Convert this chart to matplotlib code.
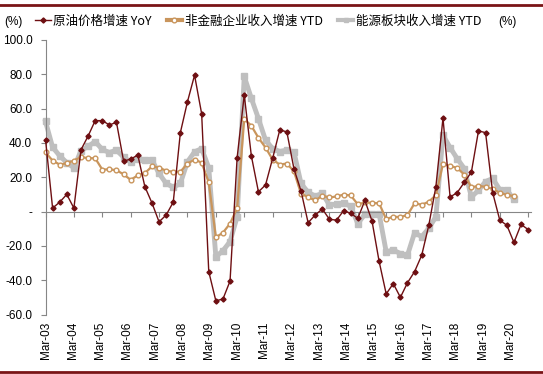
import numpy as np
import matplotlib.pyplot as plt
from matplotlib.lines import Line2D
from matplotlib.ticker import FuncFormatter
from matplotlib.font_manager import FontProperties

plt.rcParams['font.family'] = ['Liberation Sans', 'DejaVu Sans']

# 季度数据 Mar-03 起
crude_oil_yoy = [42, 2, 5.5, 10, 2, 36, 44, 53, 53, 50.5,
                 52, 29.5, 30.5, 33, 14.5, 5, -6, -2, 5.5, 46,
                 64, 79.5, 57, -35, -52, -51, -40.5, 31.5, 68, 32.5,
                 11.5, 15.5, 31, 47.5, 46.5, 25, 12, -6.5, -2, 1.5,
                 -4.5, -5, 0.5, -1, -4, 6.5, -5.5, -29, -48, -42,
                 -50, -41.5, -35, -25.5, -8, 14.5, 54.5, 8.5, 11, 17,
                 23, 47, 46, 11, -5, -8, -18, -7.5, -10.5]
nonfin_rev_ytd = [34.5, 29.7, 27.4, 28.2, 29.7, 31.8, 31.1, 31.1, 24.5, 24.6,
                  24.1, 21.7, 18.5, 21.1, 22.4, 26.3, 25.6, 23.8, 23.2, 23.2,
                  28.0, 30.3, 28.5, 17.0, -15.0, -12.3, -7.0, 2.0, 54.0, 50.0,
                  43.0, 37.3, 30.3, 27.4, 28.0, 23.5, 10.4, 8.4, 6.5, 9.2,
                  8.2, 8.8, 9.9, 9.4, 4.2, 5.3, 5.1, 4.8, -4.4, -3.0,
                  -3.2, -2.0, 4.8, 4.0, 5.7, 9.6, 27.8, 26.5, 25.5, 21.5,
                  14.1, 15.0, 14.4, 13.3, 10.9, 9.7, 9.0]
energy_rev_ytd = [52.5, 37.5, 32.5, 28.5, 25.5, 35.5, 38, 40.8, 36.2, 34.4,
                  35.8, 31.7, 28.8, 30.6, 29.8, 30, 22.2, 16.4, 14.2, 16.4,
                  29, 34.8, 36.7, 25.5, -26.3, -22.8, -17.5, -3, 78.8, 66,
                  54.2, 41.6, 36.7, 35, 35.8, 34.8, 16.4, 11.2, 9, 10.6,
                  3.8, 4.4, 5, 3, -7, -1.5, -1.2, -1.2, -23.5, -22.4,
                  -24.5, -25.4, -12.3, -14.6, -9.8, -3, 44.5, 37.3, 30.9, 25.1,
                  8.5, 12.4, 17.5, 19.3, 12.8, 12.5, 7.1]
year_labels = ['Mar-03', 'Mar-04', 'Mar-05', 'Mar-06', 'Mar-07', 'Mar-08',
               'Mar-09', 'Mar-10', 'Mar-11', 'Mar-12', 'Mar-13', 'Mar-14',
               'Mar-15', 'Mar-16', 'Mar-17', 'Mar-18', 'Mar-19', 'Mar-20']
legend_labels = ['原油价格增速 YoY', '非金融企业收入增速 YTD', '能源板块收入增速 YTD']

c_crude = '#6E0F12'
c_tan = '#C9955C'
c_gray = '#BFBFBF'
c_axis = '#868686'

W, H = 543, 374
fig = plt.figure(figsize=(W / 100, H / 100), dpi=100)
ax = fig.add_axes([45.5 / W, 1 - 314.5 / H, (531 - 45.5) / W, (314.5 - 40) / H])

ax.plot(np.arange(len(energy_rev_ytd)), energy_rev_ytd, color=c_gray, lw=3.5,
        marker='s', ms=4, clip_on=False, zorder=2)
ax.plot(np.arange(len(nonfin_rev_ytd)), nonfin_rev_ytd, color=c_tan, lw=1.6,
        marker='o', ms=3.4, mfc='white', mec=c_tan, mew=1, clip_on=False, zorder=3)
ax.plot(np.arange(len(crude_oil_yoy)), crude_oil_yoy, color=c_crude, lw=1,
        marker='D', ms=2.6, clip_on=False, zorder=4)

ax.set_xlim(0, 68.4)
ax.set_ylim(-60, 100)
ax.set_yticks(np.arange(-60, 101, 20))
ax.yaxis.set_major_formatter(FuncFormatter(lambda v, p: '-' if v == 0 else '%.1f' % v))

for s in ['top', 'right']:
    ax.spines[s].set_visible(False)
ax.spines['left'].set_color(c_axis)
ax.spines['bottom'].set_color(c_axis)
ax.spines['bottom'].set_position(('data', 0))

ax.set_xticks(np.arange(0, 69, 4))
ax.tick_params(axis='x', direction='out', length=3.5, color=c_axis, labelbottom=False)
ax.tick_params(axis='y', direction='out', length=3.5, color=c_axis, pad=6, labelsize=8.5)

# 日期标签放在图底部
sec = ax.secondary_xaxis('bottom')
sec.spines['bottom'].set_visible(False)
sec.set_xticks(np.arange(len(year_labels)) * 3.85, year_labels, rotation=90, fontsize=8.5)
sec.tick_params(length=0, pad=5)

cjk = FontProperties(family=['Noto Sans CJK SC', 'DejaVu Sans'], size=9)
handles = [
    Line2D([], [], color=c_crude, lw=1, marker='D', ms=2.6),
    Line2D([], [], color=c_tan, lw=3, marker='o', ms=3.4, mfc='white', mec=c_tan),
    Line2D([], [], color=c_gray, lw=3, marker='s', ms=3.5),
]
fig.legend(handles, legend_labels, loc='center left', bbox_to_anchor=(35 / W, 1 - 21 / H),
           ncol=3, frameon=False, prop=cjk, handlelength=1.25, handletextpad=0.2,
           columnspacing=1.2, borderpad=0, borderaxespad=0)
fig.text(4 / W, 1 - 22 / H, '(%)', fontsize=8.5, va='center')
fig.text(498 / W, 1 - 22 / H, '(%)', fontsize=8.5, va='center')

# 上下装饰线
fig.add_artist(Line2D([0, 1], [1 - 4.5 / H, 1 - 4.5 / H], transform=fig.transFigure,
                      color='#7A1416', lw=2))
fig.add_artist(Line2D([0, 1], [1 - 371.5 / H, 1 - 371.5 / H], transform=fig.transFigure,
                      color='#7A1416', lw=2))

fig.savefig('out.png', dpi=100)
